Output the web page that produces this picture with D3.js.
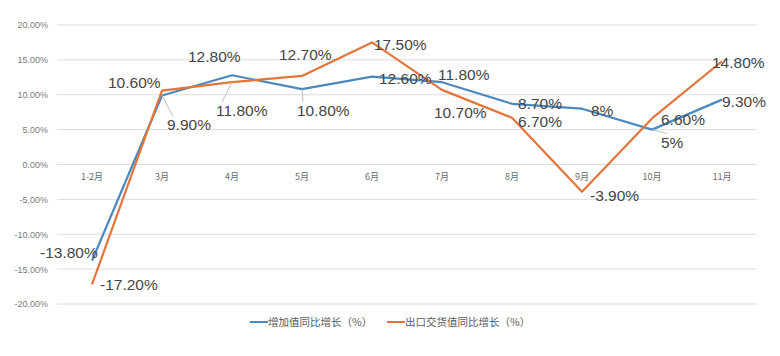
<!DOCTYPE html>
<html><head><meta charset="utf-8">
<script src="https://cdn.jsdelivr.net/npm/d3@7"></script>
<style>body{margin:0;background:#fff}svg{display:block}</style>
</head><body>
<svg id="c" width="780" height="356"></svg>
<script>
const categories = ["1-2月","3月","4月","5月","6月","7月","8月","9月","10月","11月"];
const addedValue = [-13.8, 9.9, 12.8, 10.8, 12.6, 11.8, 8.7, 8, 5, 9.3];
const exportValue = [-17.2, 10.6, 11.8, 12.7, 17.5, 10.7, 6.7, -3.9, 6.6, 14.8];
const yTicks = [-20, -15, -10, -5, 0, 5, 10, 15, 20];
const seriesNames = ["增加值同比增长（%）", "出口交货值同比增长（%）"];

// label placement (styling): [dx, dy, leader]
const blueLabelPos = [[-52,-9,0],[5,29,1],[-44,-19,0],[-5,21,1],[7,1,0],[-4,-8,0],[6,-1,0],[9,1,0],[9,12,1],[0,1,0]];
const orangeLabelPos = [[8,0,0],[-54,-9,0],[-16,28,1],[-23,-22,0],[2,2,0],[-8,22,0],[6,3,0],[8,3,0],[9,1,0],[-10,1,0]];

const colors = ["#4a88bf", "#e3753a"];
const svg = d3.select("#c");
const x = d3.scaleBand().domain(categories).range([57, 757]);
const y = d3.scaleLinear().domain([-20, 20]).range([304, 25]);
const cx = d => x(d) + x.bandwidth()/2;

// gridlines
svg.append("g").selectAll("line").data(yTicks).join("line")
  .attr("x1", 57).attr("x2", 757)
  .attr("y1", d => y(d)).attr("y2", d => y(d))
  .attr("stroke", "#dcdcdc").attr("stroke-width", 1);

// y axis labels
const yAxis = d3.axisLeft(y).tickValues(yTicks).tickSize(0).tickPadding(0)
  .tickFormat(d => d.toFixed(2) + "%");
svg.append("g").attr("transform", "translate(48,0)").call(yAxis)
  .call(g => g.select(".domain").remove())
  .call(g => g.selectAll("text").attr("font-family", "Liberation Sans, Arial, sans-serif")
     .attr("font-size", 9).attr("fill", "#7a7a7a"));

// x axis labels at zero line
const xAxis = d3.axisBottom(x).tickSize(0).tickPadding(9);
svg.append("g").attr("transform", `translate(0,${y(0)})`).call(xAxis)
  .call(g => g.select(".domain").remove())
  .call(g => g.selectAll("text").attr("font-family", "Noto Sans CJK SC, sans-serif")
     .attr("font-size", 9).attr("fill", "#6a6a6a"));

const fmt = v => (Number.isInteger(v) ? v : v.toFixed(2)) + "%";
const series = [addedValue, exportValue];
const posSets = [blueLabelPos, orangeLabelPos];
const line = d3.line().x((d,i) => cx(categories[i])).y(d => y(d));

series.forEach((vals, si) => {
  svg.append("path").datum(vals).attr("d", line)
    .attr("fill", "none").attr("stroke", colors[si]).attr("stroke-width", 2.2)
    .attr("stroke-linejoin", "round");
});

series.forEach((vals, si) => {
  const g = svg.append("g");
  vals.forEach((v, i) => {
    const px = cx(categories[i]), py = y(v);
    const [dx, dy, leader] = posSets[si][i];
    if (leader) {
      g.append("line").attr("x1", px).attr("y1", py)
        .attr("x2", px + dx + 6).attr("y2", py + dy - 8)
        .attr("stroke", "#bfbfbf").attr("stroke-width", 1);
    }
    g.append("text").attr("x", px + dx).attr("y", py + dy + 6)
      .attr("font-family", "Liberation Sans, Arial, sans-serif")
      .attr("font-size", 15.5).attr("fill", "#454545")
      .text(fmt(v));
  });
});

// legend
const leg = svg.append("g").attr("font-family", "Noto Sans CJK SC, sans-serif")
  .attr("font-size", 10.5).attr("fill", "#595959");
const legX = [250, 387];
seriesNames.forEach((n, i) => {
  leg.append("line").attr("x1", legX[i]).attr("x2", legX[i] + 18)
    .attr("y1", 322).attr("y2", 322).attr("stroke", colors[i]).attr("stroke-width", 2);
  leg.append("text").attr("x", legX[i] + 18).attr("y", 326).text(n);
});
</script>
</body></html>
